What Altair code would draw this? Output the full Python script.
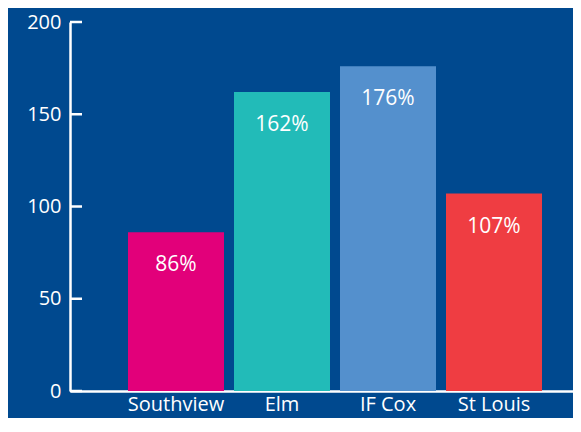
import altair as alt
import pandas as pd

schools = ["Southview", "Elm", "IF Cox", "St Louis"]
values = [86, 162, 176, 107]
labels = ["86%", "162%", "176%", "107%"]
colors = ["#e2007a", "#22bbb8", "#5490cd", "#ef3d42"]
tick_values = [0, 50, 100, 150, 200]

BG = "#00498f"
FONT = "Open Sans"

df = pd.DataFrame({"school": schools, "value": values, "label": labels})
ticks_df = pd.DataFrame({"value": tick_values})

x_scale = alt.Scale(domain=schools, paddingInner=0.0943, paddingOuter=0.4198, align=0.6517)
y_scale = alt.Scale(domain=[0, 200], nice=False)

y_axis = alt.Axis(values=tick_values, grid=False, ticks=False, tickSize=0,
                  labelPadding=9, labelColor="white", labelFontSize=20,
                  labelFont=FONT, domainColor="white", domainWidth=2.5)

bars = alt.Chart(df).mark_bar().encode(
    x=alt.X("school:N", scale=x_scale, sort=schools, title=None,
            axis=alt.Axis(labelAngle=0, ticks=False, tickSize=0, labelPadding=3,
                          labelColor="white", labelFontSize=20, labelFont=FONT,
                          domainColor="white", domainWidth=2.5)),
    y=alt.Y("value:Q", scale=y_scale, title=None, axis=y_axis),
    color=alt.Color("school:N", scale=alt.Scale(domain=schools, range=colors), legend=None),
)

text = alt.Chart(df).mark_text(
    color="white", fontSize=21, font=FONT, baseline="middle", dy=33
).encode(
    x=alt.X("school:N", scale=x_scale, sort=schools),
    y=alt.Y("value:Q", scale=y_scale, title=None, axis=y_axis),
    text="label:N",
)

tick_rules = alt.Chart(ticks_df).mark_rule(color="white", strokeWidth=2.5).encode(
    y=alt.Y("value:Q", scale=y_scale, title=None, axis=y_axis),
    x=alt.value(0),
    x2=alt.value(12),
)

chart = alt.layer(bars, text, tick_rules).properties(
    width=503, height=369,
    background=BG,
    padding={"left": 62, "top": 14, "right": 0, "bottom": 27},
    autosize=alt.AutoSizeParams(type="none"),
).configure_view(stroke=None)

chart.save("out.html", embed_options={"renderer": "svg", "actions": False})
